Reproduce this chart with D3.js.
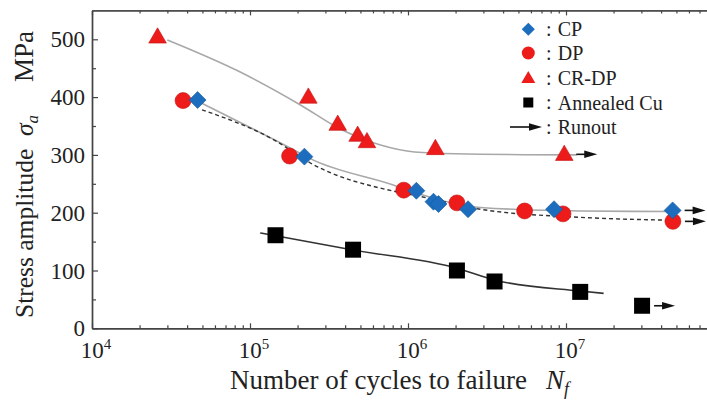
<!DOCTYPE html>
<html lang="en">
<head>
<meta charset="utf-8">
<title>S-N curves</title>
<script src="https://cdn.jsdelivr.net/npm/d3@7"></script>
<style>
  body { margin: 0; background: #fff; }
</style>
</head>
<body>
<div id="chart"></div>
<script>
// measured points (cycles, stress MPa)
var cpN = [4.66e4, 2.21e5, 1.13e6, 1.45e6, 1.56e6, 2.4e6, 8.4e6, 4.73e7];
var cpS = [395, 297, 238, 219, 215, 206, 206, 204];

var dpN = [3.77e4, 1.78e5, 9.4e5, 2.04e6, 5.47e6, 9.57e6, 4.75e7];
var dpS = [394, 298, 239, 217, 203, 198, 185];

var crN = [2.6e4, 2.34e5, 3.59e5, 4.8e5, 5.5e5, 1.49e6, 9.75e6];
var crS = [504, 400, 353, 334, 323, 311, 301];

var cuN = [1.45e5, 4.49e5, 2.04e6, 3.53e6, 1.23e7, 3.03e7];
var cuS = [161, 136, 100, 81, 63, 39];

// fitted curves
var crFitN = [3.0e4, 8.3e4, 2.1e5, 3.6e5, 6.7e5, 1.1e6, 2.0e6, 1.17e7];
var crFitS = [499, 446, 386, 347, 317, 305, 302, 300];

var cpFitN = [4.9e4, 1.71e5, 2.52e5, 8.07e5, 1.08e6, 2.87e6, 1.23e7, 4.6e7];
var cpFitS = [390, 315, 291, 248, 236, 209, 203, 202];

var dpFitN = [4.97e4, 1.48e5, 2.41e5, 8.51e5, 1.2e6, 2.87e6, 1.23e7, 4.6e7];
var dpFitS = [378, 323, 286, 236, 228, 206, 192, 187];

var cuFitN = [1.16e5, 4.49e5, 2.04e6, 3.53e6, 1.23e7, 1.73e7];
var cuFitS = [165, 135.5, 104, 83.6, 64.5, 60.5];

// runout points
var runouts = [
  {N: 9.75e6, S: 301},
  {N: 4.73e7, S: 204},
  {N: 4.75e7, S: 185},
  {N: 3.03e7, S: 39}
];

var xMajor = [1e4, 1e5, 1e6, 1e7];
var xExp = ["4", "5", "6", "7"];
var yMajor = [0, 100, 200, 300, 400, 500];
var yMinor = [50, 150, 250, 350, 450];

var legendNames = ["CP", "DP", "CR-DP", "Annealed Cu", "Runout"];

var w = 707, h = 402;
var padL = 92, padT = 10.4, padB = 328.3;
var serif = "'Liberation Serif', 'Times New Roman', serif";

var blue = "#1c6dbd", red = "#ee1b1b";

var svg = d3.select("#chart").append("svg")
  .attr("width", w).attr("height", h)
  .style("font-family", serif);

var x = d3.scaleLog().domain([1e4, 1e8]).range([padL, 724]);
var y = d3.scaleLinear().domain([0, 550]).range([padB, padT]);

// minor x ticks
var xMinor = [];
for (var e = 4; e < 8; e++) {
  for (var k = 2; k <= 9; k++) xMinor.push(k * Math.pow(10, e));
}

function axisStyle(g) {
  g.selectAll("path").attr("stroke", "#444").attr("stroke-width", 1.4);
  g.selectAll("line").attr("stroke", "#444").attr("stroke-width", 1.2);
  g.selectAll("text").remove();
}

svg.append("g").attr("transform", "translate(0," + padB + ")")
  .call(d3.axisBottom(x).tickValues(xMinor).tickSizeInner(-3).tickSizeOuter(0)).call(axisStyle);
svg.append("g").attr("transform", "translate(0," + padB + ")")
  .call(d3.axisBottom(x).tickValues(xMajor).tickSizeInner(-5).tickSizeOuter(0)).call(axisStyle);
svg.append("g").attr("transform", "translate(0," + padT + ")")
  .call(d3.axisTop(x).tickValues(xMinor).tickSizeInner(-3).tickSizeOuter(0)).call(axisStyle);
svg.append("g").attr("transform", "translate(0," + padT + ")")
  .call(d3.axisTop(x).tickValues(xMajor).tickSizeInner(-5).tickSizeOuter(0)).call(axisStyle);
svg.append("g").attr("transform", "translate(" + padL + ",0)")
  .call(d3.axisLeft(y).tickValues(yMinor).tickSizeInner(-4).tickSizeOuter(0)).call(axisStyle);
svg.append("g").attr("transform", "translate(" + padL + ",0)")
  .call(d3.axisLeft(y).tickValues(yMajor).tickSizeInner(-6).tickSizeOuter(0)).call(axisStyle);

function txt(sel) {
  return sel.style("font-family", serif).attr("fill", "#222");
}

// tick labels
svg.selectAll("text.yl").data(yMajor).enter().append("text")
  .attr("class", "yl")
  .attr("x", 85).attr("y", function(d) { return y(d); })
  .attr("dy", "0.35em").attr("text-anchor", "end")
  .style("font-size", "23px")
  .call(txt)
  .text(function(d) { return d; });

var xl = svg.selectAll("text.xl").data(xMajor).enter().append("text")
  .attr("class", "xl")
  .attr("x", function(d) { return x(d) + 4; }).attr("y", 358)
  .attr("text-anchor", "middle")
  .style("font-size", "23px")
  .call(txt);
xl.append("tspan").text("10");
xl.append("tspan").attr("dy", -9).style("font-size", "15px").text(function(d, i) { return xExp[i]; });

// axis titles
var xt = svg.append("text").attr("x", 230).attr("y", 389)
  .style("font-size", "27px").call(txt);
xt.append("tspan").text("Number of cycles to failure");
xt.append("tspan").attr("x", 546).style("font-style", "italic").text("N");
xt.append("tspan").attr("dy", 6).style("font-style", "italic").style("font-size", "18px").text("f");

var yt = svg.append("text")
  .attr("transform", "translate(33,318) rotate(-90)")
  .style("font-size", "25.5px").call(txt);
yt.append("tspan").text("Stress amplitude");
yt.append("tspan").attr("x", 182).style("font-style", "italic").text("\u03c3");
yt.append("tspan").attr("dy", 5).style("font-style", "italic").style("font-size", "17px").text("a");
yt.append("tspan").attr("x", 236).attr("dy", -5).style("font-size", "27px").text("MPa");

// fitted curves
function fitLine(N, S) {
  return d3.line().curve(d3.curveMonotoneX)(N.map(function(n, i) { return [x(n), y(S[i])]; }));
}
svg.append("path").attr("d", fitLine(crFitN, crFitS))
  .attr("fill", "none").attr("stroke", "#a8a8a8").attr("stroke-width", 1.6);
svg.append("path").attr("d", fitLine(cpFitN, cpFitS))
  .attr("fill", "none").attr("stroke", "#a8a8a8").attr("stroke-width", 1.6);
svg.append("path").attr("d", fitLine(dpFitN, dpFitS))
  .attr("fill", "none").attr("stroke", "#333").attr("stroke-width", 1.4)
  .attr("stroke-dasharray", "4,3");
svg.append("path").attr("d", fitLine(cuFitN, cuFitS))
  .attr("fill", "none").attr("stroke", "#333").attr("stroke-width", 1.6);

// runout arrows
function arrow(g, x0, y0, x1) {
  g.append("line").attr("x1", x0).attr("x2", x1 - 10).attr("y1", y0).attr("y2", y0)
    .attr("stroke", "#111").attr("stroke-width", 1.6);
  g.append("path")
    .attr("d", "M" + (x1 - 13) + "," + (y0 - 3.8) + "L" + x1 + "," + y0 + "L" + (x1 - 13) + "," + (y0 + 3.8) + "Z")
    .attr("fill", "#111");
}
var arrows = svg.append("g");
runouts.forEach(function(r) {
  arrow(arrows, x(r.N) + 12, y(r.S), x(r.N) + 33);
});

// markers
function pts(N, S) { return N.map(function(n, i) { return {N: n, S: S[i]}; }); }

svg.append("g").selectAll("path").data(pts(cuN, cuS)).enter().append("path")
  .attr("d", d3.symbol(d3.symbolSquare, 256))
  .attr("transform", function(d) { return "translate(" + x(d.N) + "," + y(d.S) + ")"; })
  .attr("fill", "#000");

svg.append("g").selectAll("path").data(pts(crN, crS)).enter().append("path")
  .attr("d", d3.symbol(d3.symbolTriangle, 135))
  .attr("transform", function(d) { return "translate(" + x(d.N) + "," + (y(d.S) + 1) + ")"; })
  .attr("fill", red).attr("stroke", "#c41010").attr("stroke-width", 0.6);

svg.append("g").selectAll("path").data(pts(dpN, dpS)).enter().append("path")
  .attr("d", d3.symbol(d3.symbolCircle, 200))
  .attr("transform", function(d) { return "translate(" + x(d.N) + "," + y(d.S) + ")"; })
  .attr("fill", red).attr("stroke", "#c41010").attr("stroke-width", 0.6);

svg.append("g").selectAll("path").data(pts(cpN, cpS)).enter().append("path")
  .attr("d", d3.symbol(d3.symbolSquare, 144))
  .attr("transform", function(d) { return "translate(" + x(d.N) + "," + y(d.S) + ") rotate(45)"; })
  .attr("fill", blue).attr("stroke", "#155a9e").attr("stroke-width", 0.6);

// legend
var lg = svg.append("g");
var ly = [29.3, 53, 78, 102.5, 127];
var lx = 528.3;
lg.append("path").attr("d", d3.symbol(d3.symbolSquare, 85))
  .attr("transform", "translate(" + lx + "," + ly[0] + ") rotate(45)").attr("fill", blue);
lg.append("path").attr("d", d3.symbol(d3.symbolCircle, 133))
  .attr("transform", "translate(" + lx + "," + ly[1] + ")").attr("fill", red);
lg.append("path").attr("d", d3.symbol(d3.symbolTriangle, 85))
  .attr("transform", "translate(" + lx + "," + (ly[2] + 1) + ")").attr("fill", red);
lg.append("path").attr("d", d3.symbol(d3.symbolSquare, 100))
  .attr("transform", "translate(" + lx + "," + ly[3] + ")").attr("fill", "#000");
arrow(lg, 510, ly[4], 542);

legendNames.forEach(function(name, i) {
  lg.append("text").attr("x", 546).attr("y", ly[i]).attr("dy", "0.33em")
    .style("font-size", "20px").call(txt).text(":");
  lg.append("text").attr("x", 557.7).attr("y", ly[i]).attr("dy", "0.35em")
    .style("font-size", "20px").call(txt).text(name);
});
</script>
</body>
</html>
